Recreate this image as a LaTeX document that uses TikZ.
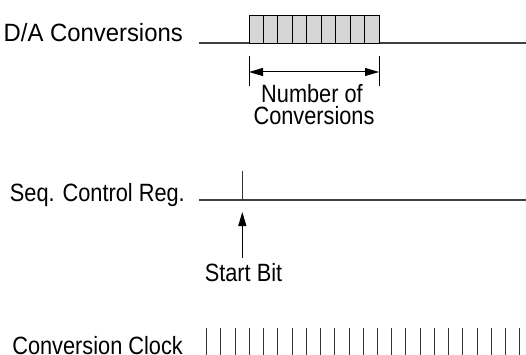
\documentclass[tikz,border=0pt]{standalone}
\usepackage{fontspec}
\setmainfont{Liberation Sans}
\usetikzlibrary{arrows.meta}
\newcommand{\narrowtxt}[2][0.87]{\scalebox{#1}[1]{#2}}
\begin{document}
\begin{tikzpicture}[x=1pt,y=-1pt,
  lab/.style={inner sep=0pt,font=\fontsize{25}{25}\selectfont},
  sig/.style={line width=1.1pt,black!75},
  tck/.style={line width=1pt,black!80},
  dim/.style={line width=1pt,black,{Triangle[length=14pt,width=8pt]}-{Triangle[length=14pt,width=8pt]}},
  up/.style={line width=1pt,black,-{Triangle[length=14pt,width=8pt]}}]
\useasboundingbox (0,0) rectangle (526,355);
% D/A conversions
\node[lab,anchor=base east] (da) at (183,42) {\narrowtxt[0.955]{D/A Conversions}};
\coordinate (daL) at (199,43);
\coordinate (daR) at (526,43);
\draw[sig] (daL) -- (daR);
\draw[fill=black!16,line width=0.9pt] (249,15) rectangle (379,43);
\foreach \i in {1,...,8} {
  \draw[line width=0.9pt] ({249+\i*130/9},15) -- ({249+\i*130/9},43);
}
% dimension
\coordinate (d1t) at (249,56);
\coordinate (d1b) at (249,86);
\coordinate (d2t) at (379,56);
\coordinate (d2b) at (379,86);
\draw[line width=0.9pt] (d1t) -- (d1b);
\draw[line width=0.9pt] (d2t) -- (d2b);
\coordinate (a1) at (249,72);
\coordinate (a2) at (379,72);
\draw[dim] (a1) -- (a2);
\node[lab,anchor=base] (num1) at (312,103) {\narrowtxt{Number of}};
\node[lab,anchor=base] (num2) at (314,125) {\narrowtxt{Conversions}};
% Seq control reg
\node[lab,anchor=base east] (seq) at (185,201) {\narrowtxt{Seq. Control Reg.}};
\coordinate (sqL) at (199,200);
\coordinate (sqR) at (526,200);
\draw[sig] (sqL) -- (sqR);
\coordinate (st) at (242.3,171);
\coordinate (sb) at (242.3,200);
\draw[tck] (st) -- (sb);
\node[lab,anchor=base] (start) at (243.5,281) {\narrowtxt{Start Bit}};
\coordinate (ab) at (242.3,258);
\coordinate (at2) at (242.3,212);
\draw[up] (ab) -- (at2);
% clock
\node[lab,anchor=base east] (clk) at (183,354) {\narrowtxt{Conversion Clock}};
\foreach \i in {0,...,22} {
  \draw[tck] ({206.7+\i*14.23},328) -- ({206.7+\i*14.23},356);
}
\end{tikzpicture}
\end{document}
